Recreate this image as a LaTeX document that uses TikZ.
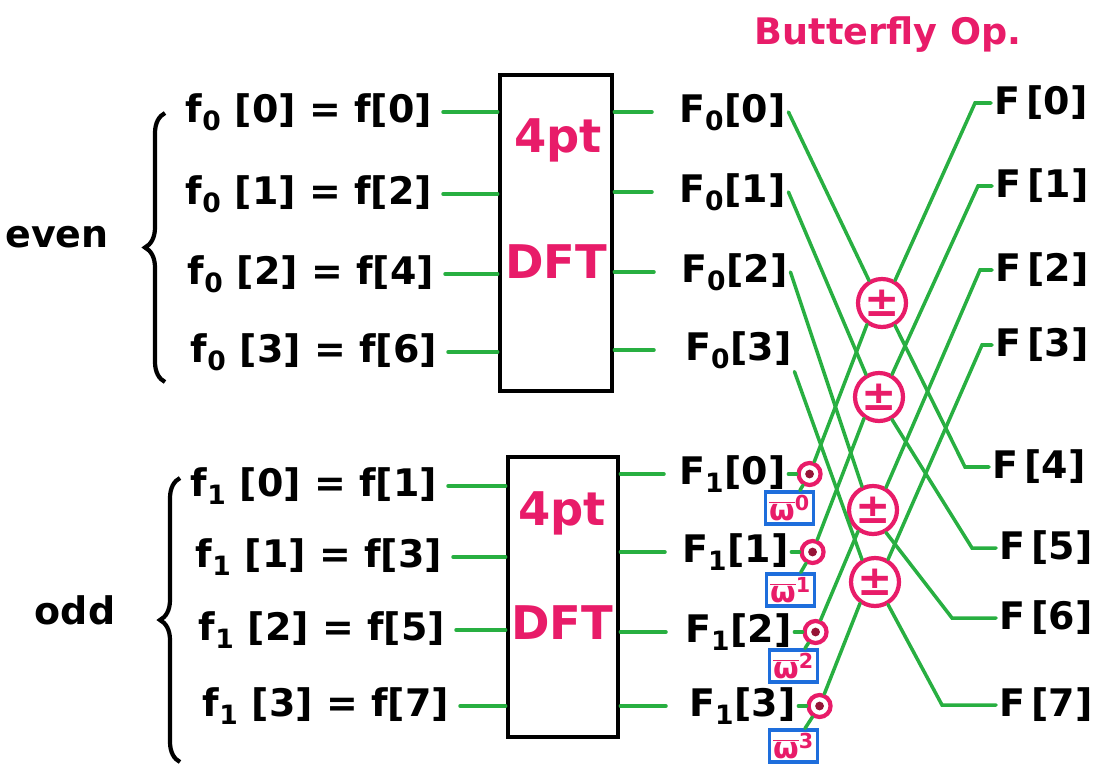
\documentclass[tikz,border=0pt]{standalone}
\usepackage{fontspec}
\setmainfont{DejaVu Sans}
\usetikzlibrary{positioning,calc,decorations.pathreplacing}

\definecolor{wiregreen}{RGB}{40,175,65}
\definecolor{penpink}{RGB}{232,28,105}
\definecolor{penblue}{RGB}{30,110,220}
\definecolor{dotred}{RGB}{150,20,55}

\begin{document}
\begin{tikzpicture}[x=0.025cm, y=-0.025cm,
		% Style definitions
		lbl/.style={inner sep=2pt,
			font=\fontsize{27}{30}\selectfont\bfseries
		},
		wire/.style={
			draw=wiregreen,
			line width=2.5pt,
			line cap=round
		},
		dftbox/.style={
			rectangle,
			draw=black,
			line width=3.4pt,
			minimum width=2.8cm,
			minimum height=7.9cm
		},
		pinktext/.style={
			text=penpink,
			font=\fontsize{33}{36}\selectfont\bfseries
		},
		bfly/.style={
			circle,
			draw=penpink,
			line width=3pt,
			minimum size=1.2cm,
			inner sep=0pt,
			text=penpink,
			font=\fontsize{30}{30}\selectfont\bfseries
		},
		mult/.style={
			circle,
			draw=penpink,
			line width=3pt,
			minimum size=0.55cm,
			inner sep=0pt,
			path picture={\fill[dotred] (path picture bounding box.center) circle (0.11cm);}
		},
		twbox/.style={
			rectangle,
			draw=penblue,
			line width=2.4pt,
			minimum width=1.2cm,
			minimum height=0.8cm,
			inner sep=1pt,
			text=penpink,
			font=\fontsize{21}{22}\selectfont\bfseries
		},
		brc/.style={
			draw,
			line width=3pt,
			decorate,
			decoration={brace, amplitude=0.5cm}
		}
		]
		\useasboundingbox (0,0) rectangle (1103,769);
		
		% Title
		\node[text=penpink, font=\fontsize{26}{28}\selectfont\bfseries] (title) at (888,35) {Butterfly Op.};
		
		% Even and odd groups
		\node[lbl] (ev) at (57,237) {even};
		\node[lbl] (od) at (75,610) {odd};
		\draw[brc] (165,382) -- (165,113);
		\draw[brc] (180,762) -- (180,478);
		
		% Input samples
		\node[lbl, anchor=east] (fe0) at (435,112) {f\textsubscript{0} [0] = f[0]};
		\node[lbl, anchor=east] (fe1) at (435,194) {f\textsubscript{0} [1] = f[2]};
		\node[lbl, anchor=east] (fe2) at (437,274) {f\textsubscript{0} [2] = f[4]};
		\node[lbl, anchor=east] (fe3) at (440,352) {f\textsubscript{0} [3] = f[6]};
		\node[lbl, anchor=east] (fo0) at (440,486) {f\textsubscript{1} [0] = f[1]};
		\node[lbl, anchor=east] (fo1) at (445,557) {f\textsubscript{1} [1] = f[3]};
		\node[lbl, anchor=east] (fo2) at (448,630) {f\textsubscript{1} [2] = f[5]};
		\node[lbl, anchor=east] (fo3) at (452,706) {f\textsubscript{1} [3] = f[7]};
		
		% 4 point DFT blocks
		\node[dftbox] (dftE) at (556,233) {};
		\node[dftbox, minimum width=2.75cm, minimum height=7cm] (dftO) at (563,597) {};
		\node[pinktext] (pE) at (558,140) {4pt};
		\node[pinktext] (dE) at (556,262) {DFT};
		\node[pinktext] (pO) at (562,513) {4pt};
		\node[pinktext] (dO) at (562,623) {DFT};
		
		% DFT outputs
		\node[lbl, anchor=west] (Fe0) at (676,112) {F\textsubscript{0}[0]};
		\node[lbl, anchor=west] (Fe1) at (676,192) {F\textsubscript{0}[1]};
		\node[lbl, anchor=west] (Fe2) at (678,272) {F\textsubscript{0}[2]};
		\node[lbl, anchor=west] (Fe3) at (682,350) {F\textsubscript{0}[3]};
		\node[lbl, anchor=west] (Fo0) at (676,474) {F\textsubscript{1}[0]};
		\node[lbl, anchor=west] (Fo1) at (679,552) {F\textsubscript{1}[1]};
		\node[lbl, anchor=west] (Fo2) at (682,632) {F\textsubscript{1}[2]};
		\node[lbl, anchor=west] (Fo3) at (686,706) {F\textsubscript{1}[3]};
		
		% Twiddle multipliers
		\node[mult, right=0.2cm of Fo0] (m0) {};
		\node[mult, right=0.2cm of Fo1] (m1) {};
		\node[mult, right=0.2cm of Fo2] (m2) {};
		\node[mult, right=0.2cm of Fo3] (m3) {};
		\node[twbox] (w0) at ($(m0)+(-20,34)$) {$\overline{\mbox{ω}}$\textsuperscript{0}};
		\node[twbox] (w1) at ($(m1)+(-22,38)$) {$\overline{\mbox{ω}}$\textsuperscript{1}};
		\node[twbox] (w2) at ($(m2)+(-22,34)$) {$\overline{\mbox{ω}}$\textsuperscript{2}};
		\node[twbox] (w3) at ($(m3)+(-26,40)$) {$\overline{\mbox{ω}}$\textsuperscript{3}};
		
		% Butterflies
		\node[bfly] (bf0) at (882,303) {±};
		\node[bfly] (bf1) at (879,397) {±};
		\node[bfly] (bf2) at (873,510) {±};
		\node[bfly] (bf3) at (875,582) {±};
		
		% Final outputs
		\coordinate (c0) at (975,103);
		\coordinate (c1) at (978,186);
		\coordinate (c2) at (980,270);
		\coordinate (c3) at (982,345);
		\coordinate (c4) at (965,467);
		\coordinate (c5) at (972,548);
		\coordinate (c6) at (952,618);
		\coordinate (c7) at (942,705);
		\node[lbl, right=0.4cm of c0] (X0) {F\,[0]};
		\node[lbl, right=0.35cm of c1] (X1) {F\,[1]};
		\node[lbl, right=0.3cm of c2] (X2) {F\,[2]};
		\node[lbl, right=0.25cm of c3] (X3) {F\,[3]};
		\node[lbl, right=0.6cm of c4] (X4) {F\,[4]};
		\node[lbl, right=0.6cm of c5] (X5) {F\,[5]};
		\node[lbl, right=1.1cm of c6] (X6) {F\,[6]};
		\node[lbl, right=1.35cm of c7] (X7) {F\,[7]};
		
		% Wires into the DFT blocks
		\draw[wire, shorten <=0.2cm] (fe0.east) -- (fe0.east -| dftE.west);
		\draw[wire, shorten <=0.2cm] (fe1.east) -- (fe1.east -| dftE.west);
		\draw[wire, shorten <=0.2cm] (fe2.east) -- (fe2.east -| dftE.west);
		\draw[wire, shorten <=0.2cm] (fe3.east) -- (fe3.east -| dftE.west);
		\draw[wire, shorten <=0.2cm] (fo0.east) -- (fo0.east -| dftO.west);
		\draw[wire, shorten <=0.2cm] (fo1.east) -- (fo1.east -| dftO.west);
		\draw[wire, shorten <=0.2cm] (fo2.east) -- (fo2.east -| dftO.west);
		\draw[wire, shorten <=0.2cm] (fo3.east) -- (fo3.east -| dftO.west);
		
		% Wires out of the DFT blocks
		\draw[wire, shorten >=0.6cm] (Fe0.west -| dftE.east) -- (Fe0.west);
		\draw[wire, shorten >=0.6cm] (Fe1.west -| dftE.east) -- (Fe1.west);
		\draw[wire, shorten >=0.6cm] (Fe2.west -| dftE.east) -- (Fe2.west);
		\draw[wire, shorten >=0.7cm] (Fe3.west -| dftE.east) -- (Fe3.west);
		\draw[wire, shorten >=0.3cm] (Fo0.west -| dftO.east) -- (Fo0.west);
		\draw[wire, shorten >=0.35cm] (Fo1.west -| dftO.east) -- (Fo1.west);
		\draw[wire, shorten >=0.4cm] (Fo2.west -| dftO.east) -- (Fo2.west);
		\draw[wire, shorten >=0.5cm] (Fo3.west -| dftO.east) -- (Fo3.west);
		
		% Twiddle factors
		\draw[wire] (Fo0.east) -- (m0);
		\draw[wire] (Fo1.east) -- (m1);
		\draw[wire] (Fo2.east) -- (m2);
		\draw[wire] (Fo3.east) -- (m3);
		\draw[wire] (m0) -- (w0);
		\draw[wire] (m1) -- (w1);
		\draw[wire] (m2) -- (w2);
		\draw[wire] (m3) -- (w3);
		
		% Butterfly inputs
		\draw[wire] (Fe0.east) -- (bf0.120);
		\draw[wire] (Fe1.east) -- (bf1.120);
		\draw[wire] (Fe2.east) -- (bf2.115);
		\draw[wire] (Fe3.south east) -- (bf3.120);
		\draw[wire] (m0) -- (bf0.235);
		\draw[wire] (m1) -- (bf1.235);
		\draw[wire] (m2) -- (bf2.235);
		\draw[wire] (m3) -- (bf3.235);
		
		% Butterfly outputs
		\draw[wire] (bf0.60) -- (c0) -- (X0.west);
		\draw[wire] (bf1.60) -- (c1) -- (X1.west);
		\draw[wire] (bf2.60) -- (c2) -- (X2.west);
		\draw[wire] (bf3.60) -- (c3) -- (X3.west);
		\draw[wire] (bf0.300) -- (c4) -- (X4.west);
		\draw[wire] (bf1.300) -- (c5) -- (X5.west);
		\draw[wire] (bf2.300) -- (c6) -- (X6.west);
		\draw[wire] (bf3.300) -- (c7) -- (X7.west);
		
	\end{tikzpicture}
\end{document}
